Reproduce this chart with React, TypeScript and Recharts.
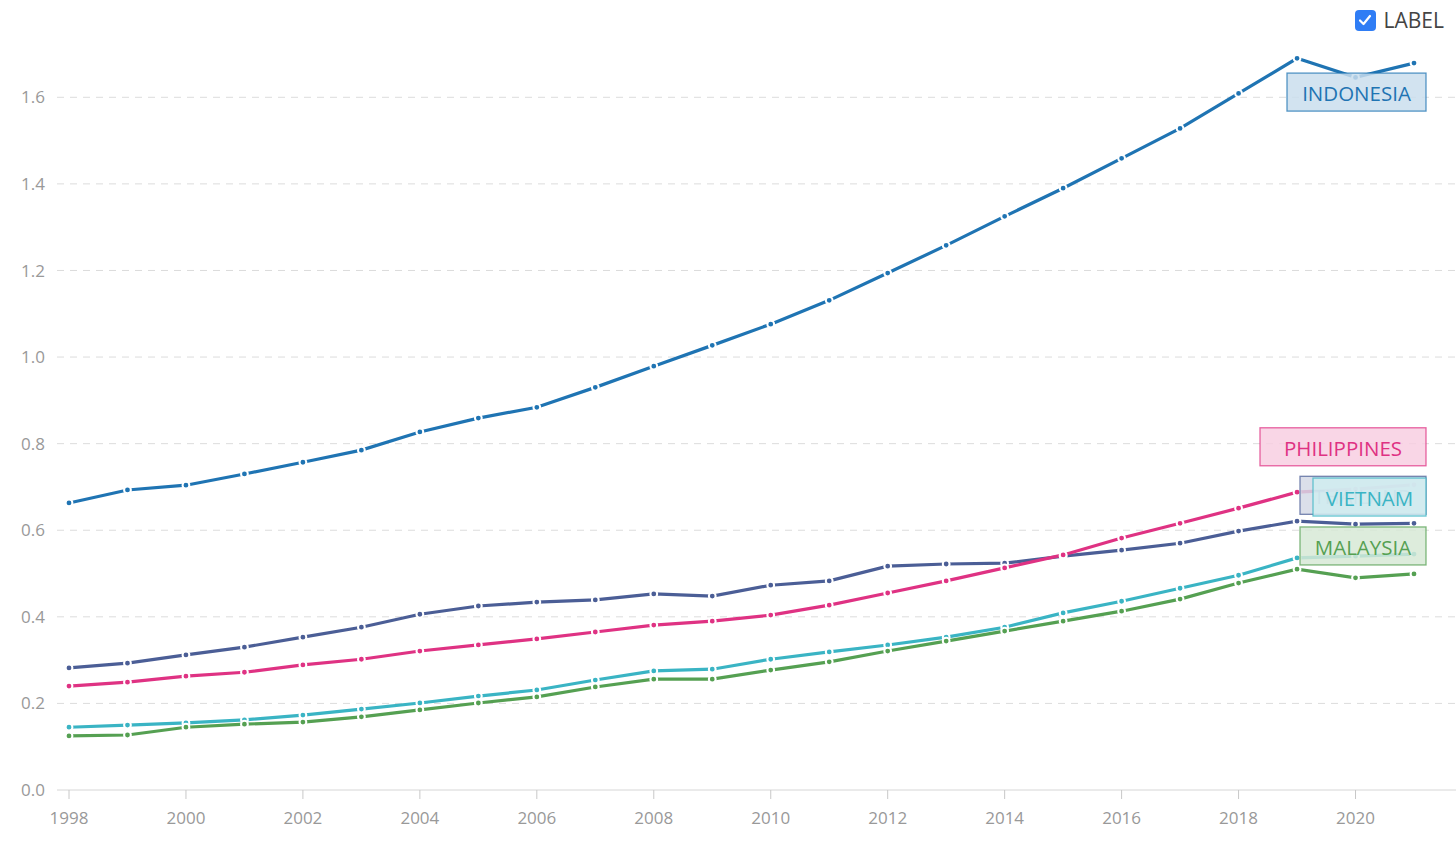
import React from "react";
import { LineChart, Line, XAxis, YAxis, CartesianGrid, LabelList } from "recharts";

const years = [1998, 1999, 2000, 2001, 2002, 2003, 2004, 2005, 2006, 2007, 2008, 2009, 2010, 2011, 2012, 2013, 2014, 2015, 2016, 2017, 2018, 2019, 2020, 2021];

const indonesia = [0.663, 0.693, 0.704, 0.73, 0.757, 0.785, 0.827, 0.859, 0.884, 0.93, 0.979, 1.027, 1.076, 1.131, 1.194, 1.258, 1.325, 1.39, 1.459, 1.528, 1.609, 1.69, 1.646, 1.679];
const thailand = [0.282, 0.293, 0.312, 0.33, 0.353, 0.376, 0.406, 0.425, 0.434, 0.439, 0.453, 0.448, 0.473, 0.483, 0.517, 0.522, 0.524, 0.54, 0.554, 0.57, 0.598, 0.621, 0.614, 0.616];
const philippines = [0.24, 0.249, 0.263, 0.272, 0.289, 0.302, 0.321, 0.335, 0.349, 0.365, 0.381, 0.39, 0.404, 0.427, 0.455, 0.483, 0.513, 0.543, 0.582, 0.616, 0.651, 0.688, 0.695, 0.705];
const vietnam = [0.145, 0.15, 0.155, 0.162, 0.173, 0.187, 0.201, 0.217, 0.231, 0.254, 0.275, 0.279, 0.302, 0.319, 0.335, 0.353, 0.376, 0.409, 0.436, 0.466, 0.496, 0.536, 0.54, 0.545];
const malaysia = [0.125, 0.127, 0.145, 0.152, 0.157, 0.169, 0.185, 0.201, 0.215, 0.238, 0.256, 0.256, 0.277, 0.296, 0.321, 0.344, 0.367, 0.39, 0.413, 0.441, 0.478, 0.51, 0.49, 0.499];

const xTicks = [1998, 2000, 2002, 2004, 2006, 2008, 2010, 2012, 2014, 2016, 2018, 2020];
const yTicks = [0, 0.2, 0.4, 0.6, 0.8, 1.0, 1.2, 1.4, 1.6];

const data = years.map((year, i) => ({
  year,
  indonesia: indonesia[i],
  thailand: thailand[i],
  philippines: philippines[i],
  vietnam: vietnam[i],
  malaysia: malaysia[i],
}));

const series = [
  { key: "indonesia", name: "INDONESIA", color: "#1f74b3" },
  { key: "thailand", name: "THAILAND", color: "#4b5e96" },
  { key: "philippines", name: "PHILIPPINES", color: "#df3283" },
  { key: "vietnam", name: "VIETNAM", color: "#3ab4c4" },
  { key: "malaysia", name: "MALAYSIA", color: "#55a052" },
];

// box placement of end labels, relative to the last point
const labelBox: Record<string, { dy: number; w: number; faint?: boolean }> = {
  indonesia: { dy: 10, w: 139 },
  philippines: { dy: -57, w: 166 },
  thailand: { dy: -47, w: 126, faint: true },
  vietnam: { dy: -76, w: 113 },
  malaysia: { dy: -47, w: 126 },
};
const labelOrder = ["indonesia", "philippines", "thailand", "vietnam", "malaysia"];

const font = "'Open Sans', 'Noto Sans', sans-serif";

function makeEndLabel(key: string, name: string, color: string) {
  return (props: any) => {
    const { x, y, index } = props;
    if (index !== years.length - 1) return null;
    const box = labelBox[key];
    const right = x + 12;
    const top = y + box.dy;
    return (
      <g>
        <rect x={right - box.w} y={top} width={box.w} height={38} fill="#fff" fillOpacity={0.8} />
        <rect x={right - box.w} y={top} width={box.w} height={38} fill={color} fillOpacity={0.2} stroke={color} strokeOpacity={0.75} strokeWidth={1.3} />
        <text x={right - box.w / 2} y={top + 20} textAnchor="middle" dominantBaseline="central" fill={color} fillOpacity={box.faint ? 0.35 : 1} fontSize={20.5} fontFamily={font}>
          {name}
        </text>
      </g>
    );
  };
}

const Dot = (props: any) => {
  const { cx, cy, stroke } = props;
  if (cx == null || cy == null) return null;
  return <circle cx={cx} cy={cy} r={3.4} fill={stroke} stroke="#fff" strokeWidth={2} />;
};

export default function App() {
  return (
    <div style={{ position: "absolute", left: 0, top: 0, width: 1456, height: 861, background: "#fff", fontFamily: font }}>
      <div style={{ position: "absolute", right: 12, top: 6, display: "flex", alignItems: "center", zIndex: 2 }}>
        <div style={{ width: 21, height: 21, borderRadius: 4, background: "#2f7df5", display: "flex", alignItems: "center", justifyContent: "center" }}>
          <svg width="14" height="14" viewBox="0 0 14 14">
            <path d="M2 7.5 L5.5 11 L12 3" fill="none" stroke="#fff" strokeWidth="2.2" strokeLinecap="round" strokeLinejoin="round" />
          </svg>
        </div>
        <span style={{ marginLeft: 8, fontSize: 21, color: "#444" }}>LABEL</span>
      </div>
      <LineChart width={1456} height={861} data={data} margin={{ top: 54, right: 0, bottom: 31, left: 0 }}>
        <CartesianGrid vertical={false} stroke="#dcdcdc" strokeDasharray="7 6" horizontalValues={yTicks.slice(1)} />
        <XAxis
          dataKey="year"
          type="number"
          domain={[1998, 2021]}
          ticks={xTicks}
          padding={{ left: 12, right: 42 }}
          height={40}
          axisLine={{ stroke: "#d6d6d6" }}
          tickLine={{ stroke: "#c8c8c8" }}
          tickSize={9}
          tickMargin={13}
          tick={{ fill: "#999", fontSize: 17, fontFamily: font }}
        />
        <YAxis
          type="number"
          domain={[0, 1.7]}
          ticks={yTicks}
          width={57}
          axisLine={false}
          tickLine={false}
          tickSize={0}
          tickMargin={12}
          tickFormatter={(v: number) => v.toFixed(1)}
          tick={{ fill: "#999", fontSize: 17, fontFamily: font }}
        />
        {series.map((s) => (
          <Line key={s.key} dataKey={s.key} stroke={s.color} strokeWidth={3.2} dot={<Dot />} activeDot={false} isAnimationActive={false} />
        ))}
        {labelOrder.map((k) => {
          const s = series.find((q) => q.key === k)!;
          return (
            <Line key={"lbl-" + k} dataKey={k} stroke="none" dot={false} activeDot={false} isAnimationActive={false} legendType="none">
              <LabelList dataKey={k} content={makeEndLabel(k, s.name, s.color)} />
            </Line>
          );
        })}
      </LineChart>
    </div>
  );
}
